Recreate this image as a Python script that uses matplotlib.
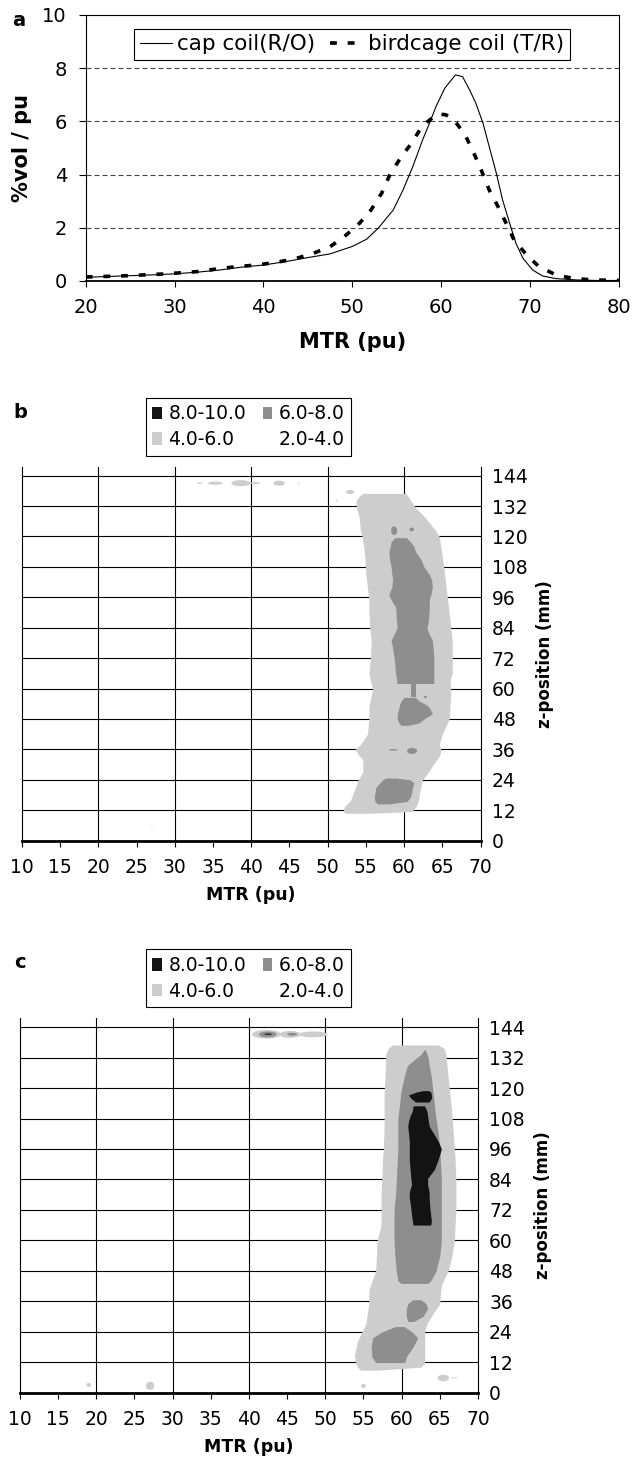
import matplotlib
matplotlib.use('Agg')
import matplotlib.pyplot as plt
import numpy as np
from matplotlib.patches import Patch, Ellipse
from matplotlib.lines import Line2D

plt.rcParams['font.family'] = ['DejaVu Sans']

# ---------------- Panel a data ----------------
cap_mtr = [20, 22.5, 25, 27.5, 30, 32.5, 35, 37.5, 40, 42.5, 45, 47.5, 50, 51.6, 52.9,
           54.6, 55.7, 56.8, 57.9, 58.7, 59.4, 60.4, 61.6, 62.4, 63.2, 63.9, 64.7, 65.4,
           66.2, 66.9, 67.7, 68.4, 69.2, 70.3, 71.4, 72.9, 75.2, 77.5, 80]
cap_vol = [0.14, 0.17, 0.20, 0.23, 0.27, 0.33, 0.41, 0.52, 0.60, 0.73, 0.88, 1.02, 1.30, 1.57, 1.98,
           2.67, 3.42, 4.30, 5.30, 5.95, 6.55, 7.25, 7.75, 7.68, 7.18, 6.68, 5.93, 5.05,
           4.05, 3.05, 2.17, 1.42, 0.85, 0.41, 0.19, 0.09, 0.04, 0.02, 0.02]
bird_mtr = [20, 22, 24, 26, 28.5, 30.8, 32.8, 34.9, 37, 39.2, 41.4, 43.5, 45.6, 47.5, 49.1,
            50.8, 52.1, 53.3, 54.2, 55.5, 56.6, 57.7, 58.5, 59.6, 60.5, 61.3, 62.6, 63.6,
            64.5, 65.4, 66.4, 67.3, 68.2, 69.6, 71.0, 72.9, 74.8, 77.0, 80]
bird_vol = [0.15, 0.17, 0.19, 0.22, 0.26, 0.31, 0.36, 0.46, 0.54, 0.60, 0.70, 0.83, 1.04, 1.29, 1.67,
            2.17, 2.67, 3.30, 3.98, 4.67, 5.15, 5.74, 6.00, 6.28, 6.25, 6.10, 5.55, 4.86,
            4.17, 3.42, 2.79, 2.17, 1.54, 0.98, 0.54, 0.23, 0.10, 0.04, 0.02]
series_labels = ['cap coil(R/O)', 'birdcage coil (T/R)']
a_gridlines = [2, 4, 6, 8]

# ---------------- Contour legend / axes ----------------
level_labels = ['8.0-10.0', '6.0-8.0', '4.0-6.0', '2.0-4.0']
level_colors = ['#131313', '#8e8e8e', '#cdcdcd', '#ffffff']
z_ticks = list(range(0, 145, 12))
mtr_ticks = list(range(10, 71, 5))
mtr_gridlines = [20, 30, 40, 50, 60]

# ---------------- Panel b regions: rows of (z, left MTR, right MTR) ----------------
b_light_main = [
    (10.8, 52.4, 55.5), (11.5, 52.0, 61.0), (13.5, 52.2, 61.6), (16, 53.0, 61.9),
    (20, 53.5, 62.1), (24, 54.0, 62.4), (27, 54.6, 63.2), (30, 54.6, 63.8),
    (32, 54.6, 64.3), (34, 54.0, 64.7), (36, 53.6, 64.8), (38, 54.3, 64.6),
    (42, 55.2, 65.0), (48, 55.4, 65.9), (53, 55.4, 66.0), (57, 55.7, 66.1),
    (60, 55.9, 66.1), (63, 55.6, 66.0), (66, 55.4, 66.3), (72, 55.6, 66.3),
    (79, 55.7, 66.3), (84, 55.5, 66.1), (90, 55.4, 65.9), (95, 55.4, 65.7),
    (100, 55.2, 65.5), (105, 55.0, 65.3), (110, 54.9, 65.1), (114, 54.8, 64.9),
    (118, 54.6, 64.7), (120, 54.5, 64.6), (122, 54.3, 64.2), (125, 54.2, 63.4),
    (128, 54.1, 62.6), (131, 53.8, 61.6), (133.5, 53.7, 61.0), (135.5, 54.0, 60.6),
    (137, 54.6, 60.2)]
b_mid_upper = [
    (62, 59.1, 63.9), (66, 58.9, 63.9), (72, 58.7, 63.9), (76, 58.5, 63.8),
    (79, 58.3, 63.7), (82, 58.8, 63.2), (84, 59.1, 63.0), (87, 59.0, 63.2),
    (92, 58.9, 63.3), (95, 58.3, 63.3), (97, 58.0, 63.5), (100, 58.4, 63.7),
    (103, 58.5, 63.6), (105, 58.4, 63.3), (108, 58.3, 62.6), (111, 58.1, 62.2),
    (114, 58.0, 61.5), (116, 58.2, 61.3), (118, 58.3, 60.8), (119.5, 58.8, 60.3)]
b_mid_neck = [(56.5, 60.9, 61.5), (62.3, 60.9, 61.5)]
b_mid_lower = [
    (45.5, 59.6, 60.6), (46.5, 59.3, 62.0), (48, 59.1, 62.6), (50, 59.1, 63.7),
    (52, 59.3, 63.4), (53.5, 59.4, 63.0), (55, 59.6, 62.0), (56.5, 60.0, 61.5)]
b_mid_bottom = [
    (14.5, 56.5, 58.0), (15.5, 56.2, 60.4), (17, 56.1, 60.8), (19, 56.2, 61.0),
    (21, 56.3, 61.1), (22.7, 56.8, 61.3), (24, 57.2, 60.8), (24.7, 57.6, 59.0)]
# small islands: (MTR from, MTR to, z from, z to)
b_light_islands = [(32.9, 33.6, 140.7, 141.3), (34.3, 36.3, 140.4, 141.6),
                   (37.4, 39.9, 139.8, 142.2), (39.8, 41.2, 140.6, 141.4),
                   (42.9, 44.4, 140.0, 142.0), (46.0, 46.4, 140.8, 141.2),
                   (52.4, 53.5, 136.7, 138.3), (51.0, 51.3, 133.8, 134.4),
                   (26.9, 27.1, 5.5, 6.0)]
b_mid_islands = [(58.3, 59.1, 120.5, 124.0), (60.7, 61.3, 122.0, 123.5),
                 (62.6, 63.0, 56.2, 57.2), (58.0, 59.2, 35.5, 36.1),
                 (60.4, 61.7, 34.2, 36.6)]
b_dark_islands = []

# ---------------- Panel c regions ----------------
c_light_main = [
    (8.8, 54.6, 57.0), (10, 54.2, 62.5), (11.5, 54.0, 63.0), (15, 53.8, 63.0),
    (20, 54.2, 63.0), (24, 54.8, 63.0), (27, 55.3, 63.3), (31, 55.5, 64.1),
    (35, 55.7, 65.0), (40, 55.7, 65.1), (43, 56.0, 65.3), (48, 56.6, 66.1),
    (54, 56.7, 66.6), (60, 56.8, 66.9), (66, 57.3, 67.0), (72, 57.3, 67.1),
    (79, 57.3, 67.1), (84, 57.4, 67.1), (92, 57.5, 67.0), (96, 57.6, 66.9),
    (105, 57.7, 66.7), (112, 57.7, 66.5), (118, 57.7, 66.3), (124, 57.8, 66.1),
    (130, 57.9, 65.9), (133, 57.9, 65.8), (135.5, 58.2, 65.6), (137, 58.8, 64.8)]
c_mid_upper = [
    (43, 59.9, 63.4), (44, 59.5, 63.8), (47.8, 59.3, 64.5), (54, 59.1, 65.0),
    (60, 59.0, 65.2), (66, 59.0, 65.2), (72, 59.0, 65.2), (78, 59.2, 65.2),
    (84, 59.3, 65.2), (90, 59.4, 65.1), (95.5, 59.5, 65.0), (102, 59.5, 64.8),
    (108, 59.5, 64.5), (113, 59.7, 64.3), (118.5, 59.9, 64.1), (124, 60.3, 63.9),
    (127.6, 60.6, 63.7), (129, 60.8, 63.6), (131.5, 61.8, 63.5), (133.5, 62.6, 63.3),
    (135, 62.9, 63.1)]
c_mid_lower = [(28, 60.8, 61.6), (30, 60.6, 62.8), (33, 60.6, 63.4),
               (35, 60.8, 63.2), (36.6, 61.5, 62.5)]
c_mid_bottom = [(11.8, 56.6, 60.4), (14, 56.1, 60.6), (18, 56.0, 61.5),
                (21.6, 56.2, 62.1), (24, 57.5, 61.3), (26, 59.2, 60.3)]
c_dark_top = [(114.5, 61.8, 63.6), (116, 61.2, 63.9), (117.3, 60.9, 63.9),
              (118.5, 62.0, 63.8), (119, 62.8, 63.5)]
c_dark_main = [
    (66, 61.5, 63.8), (67.5, 61.4, 63.9), (72.5, 61.2, 63.7), (77, 61.0, 63.6),
    (79, 61.0, 63.6), (82, 61.3, 63.4), (84.4, 61.2, 63.4), (88, 61.1, 64.3),
    (92, 61.0, 64.8), (96, 61.0, 65.2), (99, 61.0, 64.8), (102, 60.9, 64.2),
    (105, 60.8, 63.6), (107, 60.9, 63.5), (109, 61.1, 63.4), (111, 61.4, 63.3),
    (113, 61.5, 63.0)]
c_light_islands = [(40.4, 44.2, 139.5, 142.9), (44.0, 46.8, 139.8, 142.5),
                   (46.5, 50.3, 140.0, 142.3), (18.7, 19.3, 2.2, 3.8),
                   (26.5, 27.6, 1.0, 4.3), (54.7, 55.3, 1.8, 3.4),
                   (64.7, 66.2, 4.4, 7.0), (66.5, 67.3, 5.5, 6.0)]
c_mid_islands = [(41.3, 43.6, 140.0, 142.3), (45.0, 46.3, 140.6, 141.8)]
c_dark_islands = [(42.0, 43.0, 141.0, 141.5)]

W, H = 633, 1461
fig = plt.figure(figsize=(W / 100, H / 100), dpi=100)

def fx(px):
    return px / W

def fy(py):
    return 1 - py / H

# ================= Panel a =================
axa = fig.add_axes([fx(85.7), fy(281), fx(533.3), 266 / H])
axa.set_xlim(20, 80)
axa.set_ylim(0, 10)
for yv in a_gridlines:
    axa.axhline(yv, color='#444444', lw=0.8, linestyle=(0, (4.5, 2.7)), zorder=1)
axa.plot(cap_mtr, cap_vol, color='black', lw=0.8, zorder=3)
axa.plot(bird_mtr, bird_vol, color='black', lw=2.6, linestyle=(0, (1.9, 3.0)), zorder=3)
axa.set_xticks(range(20, 81, 10))
axa.set_yticks(range(0, 11, 2))
axa.tick_params(axis='x', direction='out', length=4.5, width=0.8, pad=8, labelsize=14)
axa.tick_params(axis='y', direction='out', length=5, width=0.8, pad=8.5, labelsize=14)
for s in axa.spines.values():
    s.set_linewidth(0.8)
axa.spines['bottom'].set_linewidth(1.3)
axa.set_xlabel('MTR (pu)', fontsize=15, fontweight='bold')
axa.xaxis.set_label_coords(0.5, -0.19)
axa.set_ylabel('%vol / pu', fontsize=15, fontweight='bold')
axa.yaxis.set_label_coords(-0.1, 0.5)
handles_a = [Line2D([], [], color='black', lw=0.8),
             Line2D([], [], color='black', lw=2.6, linestyle=(0, (1.9, 3.0)))]
lega = axa.legend(handles_a, series_labels, ncol=2, loc='center',
                  bbox_to_anchor=(fx(351.9), fy(44.5)), bbox_transform=fig.transFigure,
                  frameon=True, fancybox=False, edgecolor='black', framealpha=1,
                  fontsize=15.5, handlelength=1.5, handletextpad=0.25, columnspacing=0.7,
                  borderpad=0.25, borderaxespad=0)
lega.get_frame().set_linewidth(0.8)
fig.text(fx(19), fy(21), 'a', fontsize=14, fontweight='bold', ha='center', va='center')

# ================= Panels b, c =================
def draw_rows(ax, rows, color):
    arr = np.array(rows, dtype=float)
    ax.fill_betweenx(arr[:, 0], arr[:, 1], arr[:, 2], color=color, lw=0, zorder=2)

def draw_islands(ax, islands, color):
    for x0, x1, z0, z1 in islands:
        ax.add_patch(Ellipse(((x0 + x1) / 2, (z0 + z1) / 2), x1 - x0, z1 - z0,
                             facecolor=color, edgecolor='none', zorder=2))

def setup_contour_axes(ax, legend_center_y, label, label_y):
    ax.set_xlim(10, 70)
    ax.set_ylim(0, 147.5)
    ax.set_xticks(mtr_ticks)
    ax.tick_params(axis='x', which='major', direction='out', length=4.3, width=0.8,
                   pad=8, labelsize=13.5)
    for xv in mtr_gridlines:
        ax.axvline(xv, color='black', lw=0.8, zorder=1)
    ax.set_yticks(z_ticks)
    ax.yaxis.tick_right()
    ax.yaxis.set_label_position('right')
    ax.tick_params(axis='y', length=0, pad=8, labelsize=13.5)
    ax.grid(axis='y', which='major', color='black', lw=0.8)
    ax.set_axisbelow(True)
    ax.spines['top'].set_visible(False)
    ax.spines['left'].set_linewidth(0.8)
    ax.spines['right'].set_linewidth(0.8)
    ax.spines['bottom'].set_linewidth(2.0)
    ax.set_xlabel('MTR (pu)', fontsize=12.5, fontweight='bold')
    ax.xaxis.set_label_coords(0.5, -0.122)
    ax.set_ylabel('z-position (mm)', fontsize=12, fontweight='bold')
    ax.yaxis.set_label_coords(1.122, 0.5)
    handles = [Patch(facecolor=c, edgecolor='none') for c in level_colors]
    order = [0, 2, 1, 3]
    leg = ax.legend([handles[i] for i in order], [level_labels[i] for i in order],
                    ncol=2, loc='center', bbox_to_anchor=(fx(248.6), legend_center_y),
                    bbox_transform=fig.transFigure, frameon=True, fancybox=False,
                    edgecolor='black', framealpha=1, fontsize=13.5, handlelength=0.5,
                    handleheight=0.65, handletextpad=0.35, columnspacing=0.9,
                    labelspacing=0.35, borderpad=0.35, borderaxespad=0)
    leg.get_frame().set_linewidth(0.8)
    fig.text(fx(20), label_y, label, fontsize=14, fontweight='bold', ha='center', va='center')

axb = fig.add_axes([fx(22), fy(840.7), fx(458.5), 374 / H])
draw_rows(axb, b_light_main, level_colors[2])
draw_islands(axb, b_light_islands, level_colors[2])
for rows in [b_mid_upper, b_mid_neck, b_mid_lower, b_mid_bottom]:
    draw_rows(axb, rows, level_colors[1])
draw_islands(axb, b_mid_islands, level_colors[1])
draw_islands(axb, b_dark_islands, level_colors[0])
setup_contour_axes(axb, fy(426.7), 'b', fy(413))

axc = fig.add_axes([fx(20), fy(1392.5), fx(458), 374.2 / H])
draw_rows(axc, c_light_main, level_colors[2])
draw_islands(axc, c_light_islands, level_colors[2])
for rows in [c_mid_upper, c_mid_lower, c_mid_bottom]:
    draw_rows(axc, rows, level_colors[1])
draw_islands(axc, c_mid_islands, level_colors[1])
for rows in [c_dark_top, c_dark_main]:
    draw_rows(axc, rows, level_colors[0])
draw_islands(axc, c_dark_islands, level_colors[0])
setup_contour_axes(axc, fy(978.3), 'c', fy(963))

fig.savefig('out.png', dpi=100)
